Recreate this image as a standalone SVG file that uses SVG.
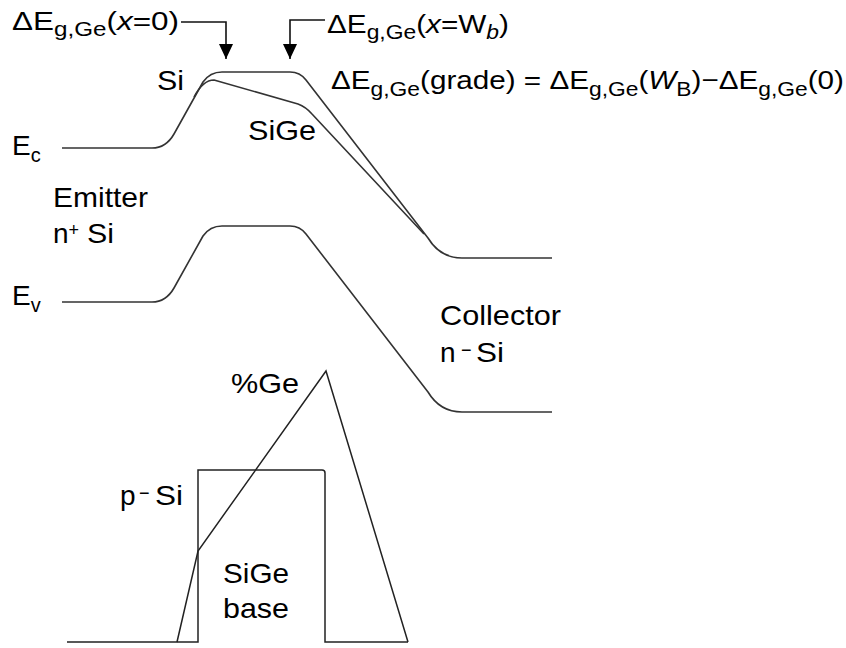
<svg xmlns="http://www.w3.org/2000/svg" width="846" height="648" viewBox="0 0 846 648">
<style>
.t{font-family:"Liberation Sans",Arial,sans-serif;fill:#000;}
.m{font-size:26px;}
.l{font-size:28px;}
.s{font-size:20px;}
.band{fill:none;stroke:#333;stroke-width:1.6;stroke-linejoin:round;}
.ge{fill:none;stroke:#222;stroke-width:1.5;stroke-linejoin:miter;}
.conn{fill:none;stroke:#111;stroke-width:1.6;}
</style>
<defs>
<marker id="ah" markerUnits="userSpaceOnUse" markerWidth="18" markerHeight="14" refX="15" refY="7" orient="auto">
<path d="M0,0 L15,7 L0,14 Z" fill="#000"/>
</marker>
</defs>
<rect width="846" height="648" fill="#fff"/>

<g id="bands">
<path id="ec-si" class="band" d="M62,148 H152 Q166,148 174,134 L203,82 Q210,72 222,72 H290 Q300,72 306,80 L428,238 Q440,258 462,258 H552"/>
<path id="ec-sige" class="band" d="M194,97 Q203,80 214,80 L298,104 Q306,107 312,114 L424,234"/>
<path id="ev" class="band" d="M62,302 H152 Q166,302 174,288 L203,236 Q210,226 222,226 H290 Q300,226 306,234 L428,392 Q440,412 462,412 H552"/>
</g>

<g id="profile">
<path id="base-box" class="ge" d="M67,642 H198 V470 H322 Q325,470 325,473 V642 H408"/>
<path id="ge-profile" class="ge" d="M177,642 L198,551 L326,371 L408,642"/>
</g>

<g id="connectors">
<path id="arrow-x0" class="conn" d="M181,22 H226 V59" marker-end="url(#ah)"/>
<path id="arrow-wb" class="conn" d="M325,20 H290 V59" marker-end="url(#ah)"/>
</g>

<g id="label-x0">
<text class="t m" x="12" y="30" textLength="167" lengthAdjust="spacingAndGlyphs">ΔE<tspan class="s" dy="6">g,Ge</tspan><tspan dy="-6">(</tspan><tspan font-style="italic">x</tspan>=0)</text>
</g>
<g id="label-wb">
<text class="t m" x="327" y="33" textLength="182" lengthAdjust="spacingAndGlyphs">ΔE<tspan class="s" dy="6">g,Ge</tspan><tspan dy="-6">(</tspan><tspan font-style="italic">x</tspan>=W<tspan class="s" font-style="italic" dy="6">b</tspan><tspan dy="-6">)</tspan></text>
</g>
<g id="label-grade">
<text class="t m" x="331" y="89" textLength="513" lengthAdjust="spacingAndGlyphs">ΔE<tspan class="s" dy="7">g,Ge</tspan><tspan dy="-7">(grade) = ΔE</tspan><tspan class="s" dy="7">g,Ge</tspan><tspan dy="-7">(</tspan><tspan font-style="italic">W</tspan><tspan class="s" dy="7">B</tspan><tspan dy="-7">)−ΔE</tspan><tspan class="s" dy="7">g,Ge</tspan><tspan dy="-7">(0)</tspan></text>
</g>

<g id="label-si"><text class="t l" x="157" y="90" textLength="27" lengthAdjust="spacingAndGlyphs">Si</text></g>
<g id="label-sige"><text class="t l" x="248" y="140" textLength="68" lengthAdjust="spacingAndGlyphs">SiGe</text></g>
<g id="label-ec"><text class="t l" x="12" y="155">E<tspan font-size="20" dy="7">c</tspan></text></g>
<g id="label-ev"><text class="t l" x="12" y="305">E<tspan font-size="20" dy="7">v</tspan></text></g>
<g id="label-emitter">
<text class="t l" x="53" y="207" textLength="95" lengthAdjust="spacingAndGlyphs">Emitter</text>
<text class="t l" x="53" y="243">n<tspan font-size="18" dy="-7">+</tspan><tspan x="87" dy="7" textLength="27" lengthAdjust="spacingAndGlyphs">Si</tspan></text>
</g>
<g id="label-collector">
<text class="t l" x="440" y="325" textLength="121" lengthAdjust="spacingAndGlyphs">Collector</text>
<text class="t l" x="440" y="362">n<tspan font-size="18" x="461" dy="-6">−</tspan><tspan x="476" dy="6" textLength="28" lengthAdjust="spacingAndGlyphs">Si</tspan></text>
</g>
<g id="label-ge"><text class="t l" x="231" y="393" textLength="68" lengthAdjust="spacingAndGlyphs">%Ge</text></g>
<g id="label-psi"><text class="t l" x="120" y="505">p<tspan font-size="18" x="139" dy="-6">−</tspan><tspan x="155" dy="6" textLength="28" lengthAdjust="spacingAndGlyphs">Si</tspan></text></g>
<g id="label-base">
<text class="t l" x="223" y="583" textLength="66" lengthAdjust="spacingAndGlyphs">SiGe</text>
<text class="t l" x="223" y="618" textLength="66" lengthAdjust="spacingAndGlyphs">base</text>
</g>
</svg>
